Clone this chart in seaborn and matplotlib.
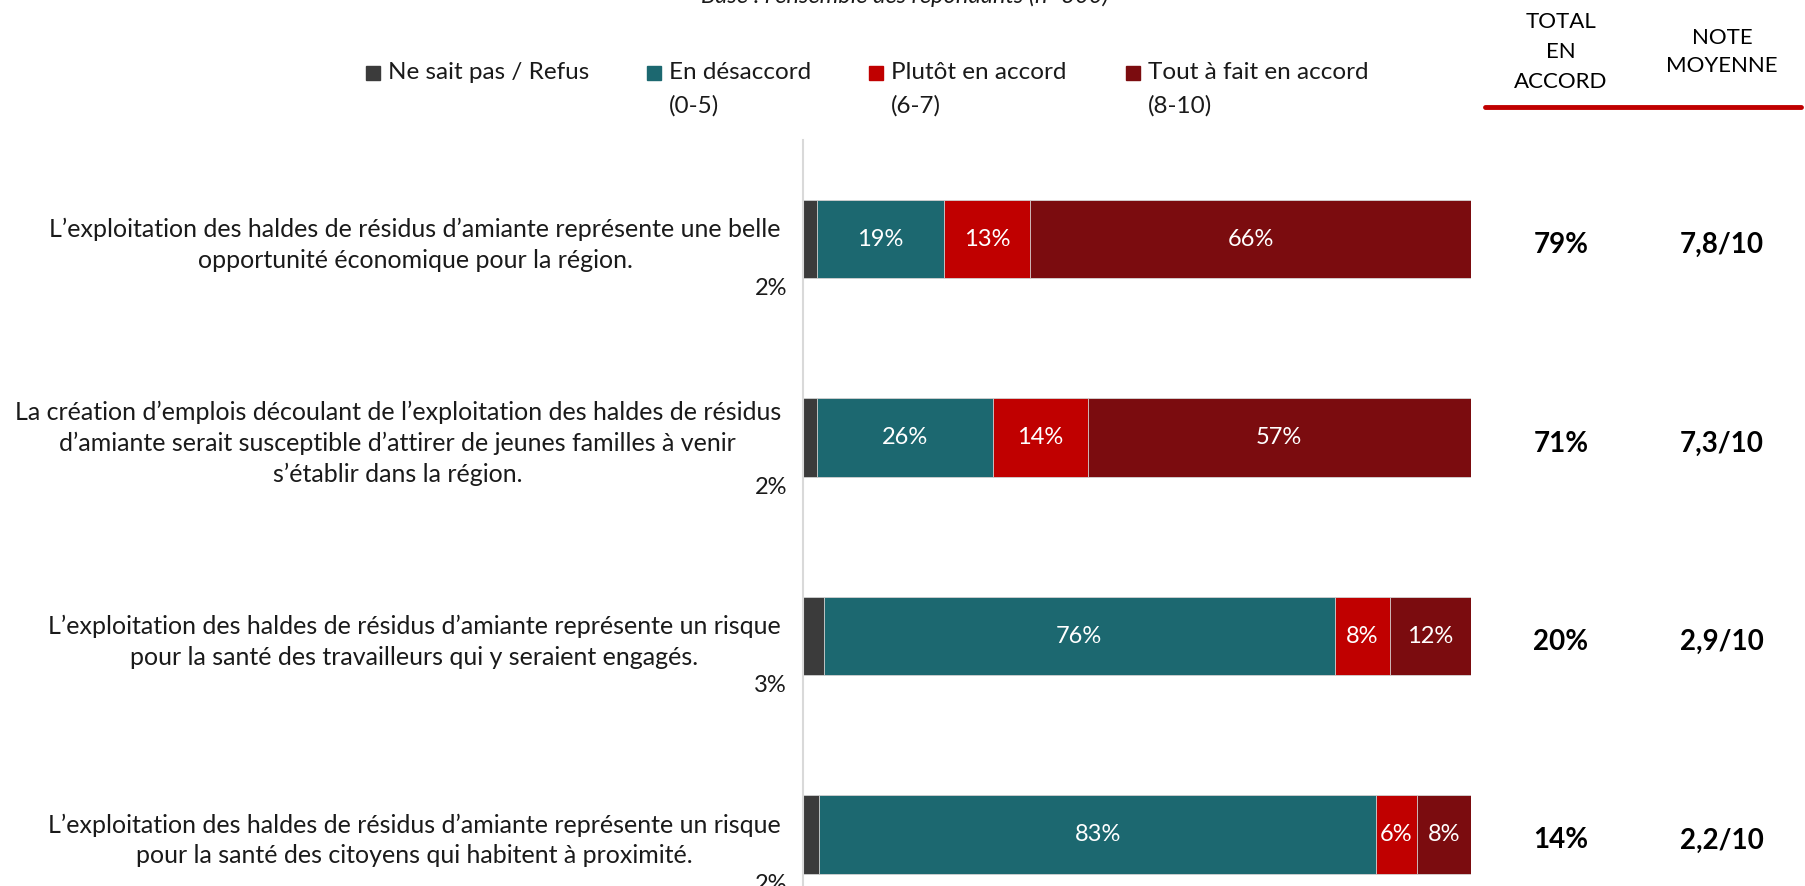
import matplotlib
matplotlib.use('Agg')
import matplotlib.pyplot as plt
import matplotlib.transforms as mtransforms
import numpy as np
import seaborn as sns

sns.set_style('white')
plt.rcParams['font.family'] = ['Lato', 'DejaVu Sans']

# data
questions = [
    'L’exploitation des haldes de résidus d’amiante représente une belle\nopportunité économique pour la région.',
    'La création d’emplois découlant de l’exploitation des haldes de résidus\nd’amiante serait susceptible d’attirer de jeunes familles à venir\ns’établir dans la région.',
    'L’exploitation des haldes de résidus d’amiante représente un risque\npour la santé des travailleurs qui y seraient engagés.',
    'L’exploitation des haldes de résidus d’amiante représente un risque\npour la santé des citoyens qui habitent à proximité.',
]
nsp = [2.1, 2.1, 3.1, 2.4]
desaccord = [19.0, 26.3, 76.5, 83.4]
plutot = [12.9, 14.2, 8.3, 6.1]
tout_a_fait = [66.0, 57.4, 12.1, 8.1]
total_accord = ['79%', '71%', '20%', '14%']
note_moyenne = ['7,8/10', '7,3/10', '2,9/10', '2,2/10']

series_names = ['Ne sait pas / Refus', 'En désaccord\n(0-5)', 'Plutôt en accord\n(6-7)',
                'Tout à fait en accord\n(8-10)']
colors = ['#3b3b3b', '#1c6870', '#c00000', '#7b0c0f']

layers = np.array([nsp, desaccord, plutot, tout_a_fait])
cum = layers.cumsum(axis=0)

W, H = 1805, 886
fig = plt.figure(figsize=(W / 100, H / 100), dpi=100)
ax = fig.add_axes([803 / W, 0, 668 / W, 1 - 140 / H])

# stacked bars: draw the cumulative totals from longest to shortest
for k in range(3, -1, -1):
    sns.barplot(x=cum[k], y=questions, orient='h', color=colors[k], saturation=1,
                width=0.395, edgecolor='#d6d6d6', linewidth=0.6, ax=ax)

for i in range(len(questions)):
    for k in range(1, 4):
        start = cum[k - 1][i]
        val = layers[k][i]
        ax.text(start + val / 2, i, f'{round(val)}%', ha='center', va='center',
                color='white', fontsize=17)
    ax.text(-2.4, i + 0.25, f'{round(nsp[i])}%', ha='right', va='center',
            color='#1a1a1a', fontsize=17)

ax.set_xlim(0, 100)
ax.set_ylim(3.26, -0.5)
ax.set_xticks([])
ax.set_xlabel('')
ax.set_ylabel('')
ax.tick_params(axis='y', length=0, pad=16, labelsize=18, labelcolor='#1a1a1a')
for lbl in ax.get_yticklabels():
    lbl.set_multialignment('center')
    lbl.set_linespacing(1.4)
for s in ['top', 'right', 'bottom']:
    ax.spines[s].set_visible(False)
ax.spines['left'].set_color('#d9d9d9')
ax.spines['left'].set_linewidth(1.5)

# right-hand columns
tr = mtransforms.blended_transform_factory(fig.transFigure, ax.transData)
for i in range(len(questions)):
    ax.text(1561 / W, i + 0.03, total_accord[i], transform=tr, ha='center', va='center',
            fontsize=20, fontweight='bold', color='black')
    ax.text(1722 / W, i + 0.03, note_moyenne[i], transform=tr, ha='center', va='center',
            fontsize=20, fontweight='bold', color='black')

fig.text(1561 / W, 1 - 52 / H, 'TOTAL\nEN\nACCORD', ha='center', va='center',
         fontsize=16, linespacing=1.65, color='black')
fig.text(1722 / W, 1 - 52 / H, 'NOTE\nMOYENNE', ha='center', va='center',
         fontsize=16, linespacing=1.5, color='black')
fig.add_artist(plt.Line2D([1485 / W, 1801 / W], [1 - 107 / H, 1 - 107 / H],
                          transform=fig.transFigure, color='#c00000', linewidth=3.5))

# legend
leg_x = [366, 647, 869, 1126]
for name, c, x in zip(series_names, colors, leg_x):
    fig.add_artist(plt.Rectangle((x / W, 1 - 80 / H), 14 / W, 14 / H,
                                 transform=fig.transFigure, color=c))
    for j, line in enumerate(name.split('\n')):
        fig.text((x + 22) / W, 1 - (72.5 + 33.5 * j) / H, line, ha='left', va='center',
                 fontsize=17.5, color='#1a1a1a')

# subtitle, cut off at the top edge
fig.text(905 / W, 1 - 3 / H, 'Base : l’ensemble des répondants (n=300)', ha='center',
         va='baseline', fontsize=17, style='italic', color='#1a1a1a')

fig.savefig('out.png', dpi=100)
